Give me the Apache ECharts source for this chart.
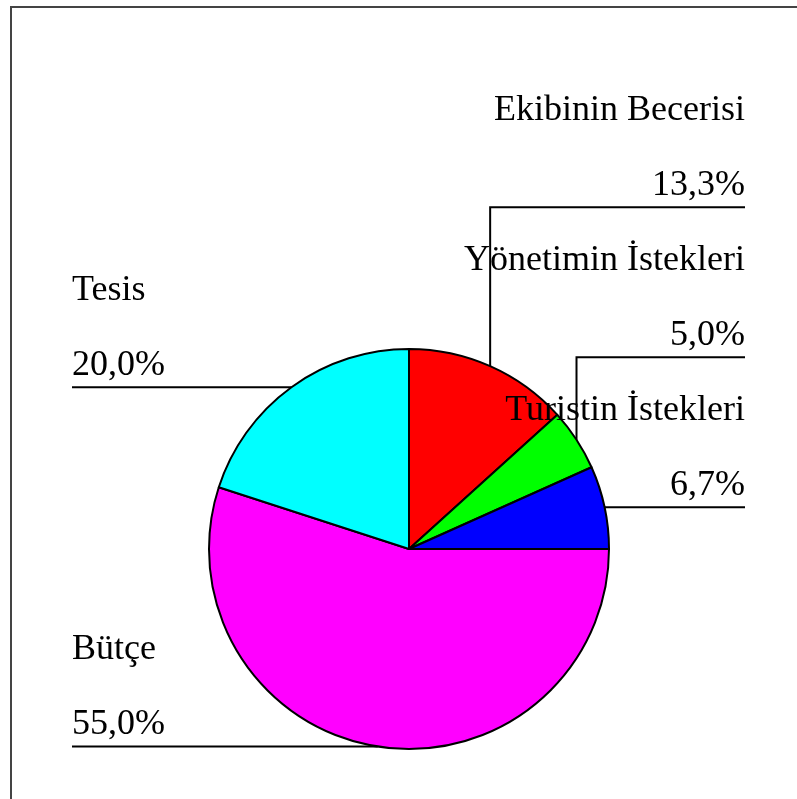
<!DOCTYPE html>
<html>
<head>
<meta charset="utf-8">
<script src="https://cdn.jsdelivr.net/npm/echarts@6/dist/echarts.min.js"></script>
<style>
  html, body { margin: 0; padding: 0; background: #fff; }
  #main { width: 797px; height: 799px; }
</style>
</head>
<body>
<div id="main"></div>
<script>
// dilimler (saat 12'den başlayıp saat yönünde)
var names = ['Ekibinin Becerisi', 'Yönetimin İstekleri', 'Turistin İstekleri', 'Bütçe', 'Tesis'];
var values = [13.3, 5.0, 6.7, 55.0, 20.0];
var colors = ['#ff0000', '#00ff00', '#0000ff', '#ff00ff', '#00ffff'];

var leftX = 72, rightX = 745, blockH = 150;
var edgePts = [];   // dilim kenarındaki çizgi başlangıcı (ilk çizimden)
var sides = [];
var lineY = [];

function fmtPct(v) {
    return v.toFixed(1).replace('.', ',') + '%';
}

function layoutLabel(params) {
    var p = params.labelLinePoints;
    if (!p) return;
    var i = params.dataIndex;
    edgePts[i] = [p[0][0], p[0][1]];
    sides[i] = p[2][0] >= p[1][0] ? 'right' : 'left';
    if (lineY[i] == null) return;
    var ly = lineY[i];
    var right = sides[i] === 'right';
    var endX = right ? rightX : leftX;
    return {
        x: endX,
        y: ly + 16,
        align: right ? 'right' : 'left',
        verticalAlign: 'bottom',
        labelLinePoints: [[p[0][0], p[0][1]], [p[0][0], ly], [endX, ly]]
    };
}

var myChart = echarts.init(document.getElementById('main'));
var data = names.map(function (n, i) {
    return { name: n, value: values[i], itemStyle: { color: colors[i] } };
});
var option = {
    animation: false,
    backgroundColor: '#fff',
    graphic: [{
        type: 'rect',
        shape: { x: 11, y: 7, width: 820, height: 820 },
        style: { fill: null, stroke: '#444', lineWidth: 2 },
        silent: true
    }],
    series: [{
        type: 'pie',
        center: [409, 549],
        radius: 200,
        startAngle: 90,
        clockwise: true,
        silent: true,
        avoidLabelOverlap: false,
        data: data,
        itemStyle: { borderColor: '#000', borderWidth: 2 },
        label: {
            show: true,
            color: '#000',
            fontFamily: 'Liberation Serif',
            fontSize: 36,
            lineHeight: 75,
            formatter: function (p) {
                return p.name + '\n' + fmtPct(values[p.dataIndex]);
            }
        },
        labelLine: {
            show: true,
            length: 20,
            length2: 20,
            lineStyle: { color: '#000', width: 2 }
        },
        labelLayout: layoutLabel
    }]
};
myChart.setOption(option);

// etiketleri iki yana yığ: alttan yukarı, her blok blockH yüksekliğinde
['left', 'right'].forEach(function (side) {
    var idx = [];
    for (var i = 0; i < edgePts.length; i++) {
        if (edgePts[i] && sides[i] === side) idx.push(i);
    }
    idx.sort(function (a, b) { return edgePts[b][1] - edgePts[a][1]; });
    var prev = Infinity;
    idx.forEach(function (i) {
        var y = Math.min(edgePts[i][1], prev - blockH);
        lineY[i] = y;
        prev = y;
    });
});
myChart.setOption(option, true);
</script>
</body>
</html>
